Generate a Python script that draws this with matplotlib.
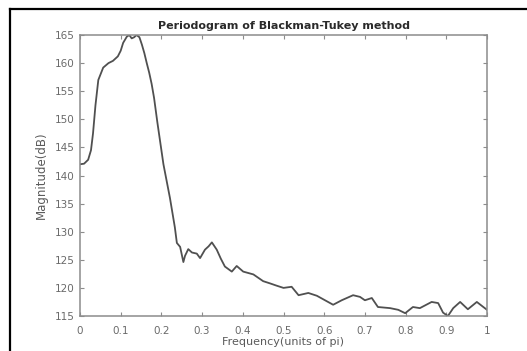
import matplotlib
matplotlib.use("Agg")
from matplotlib import pyplot as plt
from matplotlib.lines import Line2D

# frequency in units of pi, magnitude in dB
freq = [0.0, 0.01, 0.02, 0.027, 0.032, 0.038, 0.045, 0.057, 0.07, 0.081, 0.093, 0.1,
        0.106, 0.115, 0.121, 0.127, 0.133, 0.139, 0.146, 0.152, 0.158, 0.164, 0.17,
        0.176, 0.182, 0.19, 0.198, 0.205, 0.213, 0.221, 0.227, 0.233, 0.238, 0.246,
        0.254, 0.258, 0.266, 0.275, 0.287, 0.295, 0.307, 0.316, 0.324, 0.336, 0.346,
        0.356, 0.373, 0.385, 0.401, 0.426, 0.45, 0.467, 0.483, 0.5, 0.52, 0.537,
        0.561, 0.582, 0.602, 0.622, 0.643, 0.671, 0.688, 0.7, 0.717, 0.732, 0.762,
        0.782, 0.799, 0.818, 0.835, 0.864, 0.88, 0.892, 0.904, 0.917, 0.934, 0.953,
        0.975, 0.991, 1.0]
mag = [142.0, 142.1, 142.8, 144.5, 147.5, 152.5, 157.0, 159.2, 160.0, 160.4, 161.2, 162.2,
       163.6, 164.7, 165.0, 164.4, 164.6, 165.0, 164.6, 163.3, 161.8, 160.0, 158.3,
       156.3, 153.8, 149.5, 145.5, 142.0, 139.0, 136.0, 133.4, 130.8, 128.0, 127.3,
       124.6, 125.7, 126.9, 126.3, 126.1, 125.3, 126.8, 127.4, 128.1, 126.8, 125.2,
       123.8, 122.9, 123.9, 122.9, 122.4, 121.2, 120.8, 120.4, 120.0, 120.2, 118.7,
       119.1, 118.6, 117.8, 117.0, 117.8, 118.7, 118.4, 117.8, 118.2, 116.6, 116.4,
       116.1, 115.5, 116.6, 116.4, 117.5, 117.3, 115.6, 115.0, 116.4, 117.5, 116.2,
       117.5, 116.6, 116.1]

xticks = [0, 0.1, 0.2, 0.3, 0.4, 0.5, 0.6, 0.7, 0.8, 0.9, 1]
xtick_labels = ["0", "0.1", "0.2", "0.3", "0.4", "0.5", "0.6", "0.7", "0.8", "0.9", "1"]
yticks = [115, 120, 125, 130, 135, 140, 145, 150, 155, 160, 165]

plt.rcParams['font.family'] = ['DejaVu Sans']

fig = plt.figure(figsize=(5.27, 3.51), dpi=100)
ax = fig.add_axes([80 / 527, 1 - 316 / 351, 407 / 527, 281 / 351])

ax.plot(freq, mag, color='#505050', linewidth=1.3)
ax.set_xlim(0, 1)
ax.set_ylim(115, 165)
ax.set_xticks(xticks)
ax.set_xticklabels(xtick_labels)
ax.set_yticks(yticks)

for side in ax.spines.values():
    side.set_color('#8c8c8c')
    side.set_linewidth(1.1)
ax.tick_params(direction='in', length=3, width=0.8, color='#8c8c8c',
               labelcolor='#6a6a6a', labelsize=7.5, top=True, right=True)
ax.tick_params(axis='x', pad=7)
ax.tick_params(axis='y', pad=4)

ax.set_title('Periodogram of Blackman-Tukey method', fontsize=8, fontweight='bold',
             color='#2a2a2a', pad=4)
ax.set_xlabel('Frequency(units of pi)', fontsize=8, color='#5a5a5a', labelpad=1)
ax.set_ylabel('Magnitude(dB)', fontsize=8.5, color='#5a5a5a', labelpad=5)

# black frame around the picture (top and left edges only are visible)
fig.add_artist(Line2D([10 / 527, 1.0], [1 - 9 / 351, 1 - 9 / 351],
                      transform=fig.transFigure, color='black', linewidth=1.6))
fig.add_artist(Line2D([10 / 527, 10 / 527], [0.0, 1 - 9 / 351],
                      transform=fig.transFigure, color='black', linewidth=1.6))

fig.savefig('out.png', dpi=100)
